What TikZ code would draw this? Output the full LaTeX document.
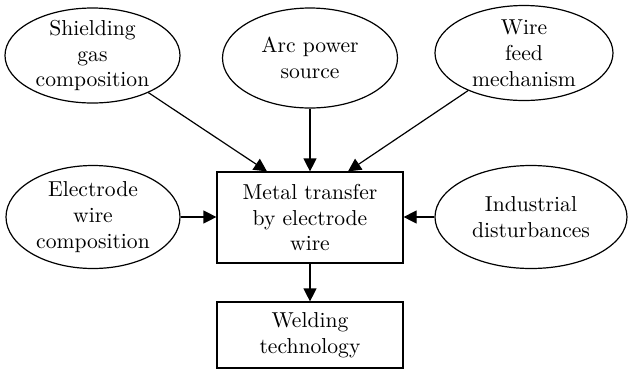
\documentclass[tikz,border=0pt]{standalone}
\usetikzlibrary{shapes.geometric,arrows.meta}
\begin{document}
\begin{tikzpicture}[x=0.5pt,y=-0.5pt,font=\fontsize{10.8}{12.9}\selectfont,
  factor/.style={draw,semithick,ellipse,align=center,inner sep=-3pt},
  stage/.style={draw,semithick,rectangle,align=center,minimum width=93pt},
  flow/.style={semithick,-{Triangle[length=6.5pt,width=6.5pt]}}]
  \useasboundingbox (0,0) rectangle (628,371);
  % influencing factors
  \node[factor,minimum width=87.5pt,minimum height=47.5pt] (shield) at (92.5,55.5) {Shielding\\gas\\composition};
  \node[factor,minimum width=87.5pt,minimum height=50pt] (arc) at (310,58) {Arc power\\source};
  \node[factor,minimum width=89pt,minimum height=47.5pt] (wire) at (524,53) {Wire\\feed\\mechanism};
  \node[factor,minimum width=87pt,minimum height=51.5pt] (electrode) at (93,217) {Electrode\\wire\\composition};
  \node[factor,minimum width=96pt,minimum height=51.5pt] (industrial) at (531,217) {Industrial\\disturbances};
  % process and result
  \node[stage,minimum height=45.5pt] (metal) at (310,217.5) {Metal transfer\\by electrode\\wire};
  \node[stage,minimum height=33pt] (welding) at (310,335) {Welding\\technology};
  % connectors
  \draw[flow] (shield) -- ([xshift=-21.5pt]metal.north);
  \draw[flow] (arc.south) -- (metal.north);
  \draw[flow] (wire) -- ([xshift=19pt]metal.north);
  \draw[flow] (electrode.east) -- (electrode.east -| metal.west);
  \draw[flow] (industrial.west) -- (industrial.west -| metal.east);
  \draw[flow] (metal) -- (welding);
\end{tikzpicture}
\end{document}
